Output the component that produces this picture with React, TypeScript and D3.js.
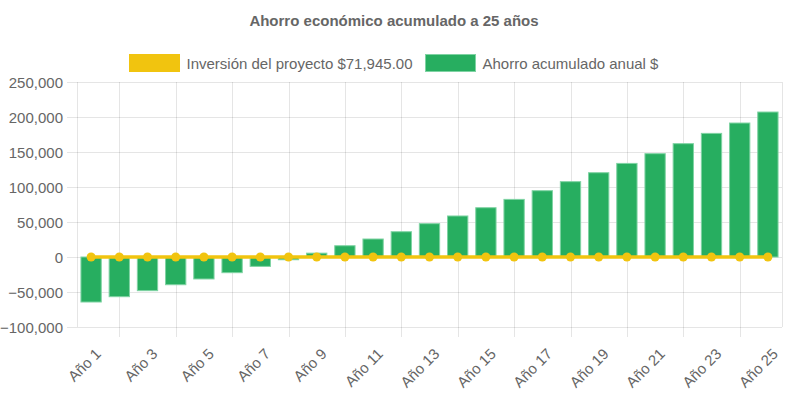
import * as d3 from 'd3';

const years = d3.range(1, 26).map((i) => `Año ${i}`);
// ahorro acumulado anual
const savings = [
  -64300, -56700, -48100, -39600, -31400, -22400, -13400, -3900, 5500, 16100,
  25700, 36100, 47600, 58600, 70400, 82300, 94700, 107600, 120400, 133700,
  147600, 161900, 176600, 191400, 207100,
];
// inversión del proyecto se dibuja como línea en cero
const investment = years.map(() => 0);
const yTicks = [-100000, -50000, 0, 50000, 100000, 150000, 200000, 250000];

const title = 'Ahorro económico acumulado a 25 años';
const legendItems = [
  { label: 'Inversión del proyecto $71,945.00', color: '#f1c40f', stroke: '#f1c40f', x: 129 },
  { label: 'Ahorro acumulado anual $', color: '#27ae60', stroke: '#7fd3a3', x: 425 },
];

const W = 788;
const H = 393;
const margin = { top: 82, right: 6, bottom: 66, left: 77 };
const font = '"Liberation Sans", Arial, sans-serif';
const grid = 'rgba(0,0,0,0.1)';
const textColor = '#666';

export default function App() {
  const x = d3
    .scaleBand<string>()
    .domain(years)
    .range([margin.left, W - margin.right]);
  const y = d3
    .scaleLinear()
    .domain([-100000, 250000])
    .range([H - margin.bottom, margin.top]);

  const bw = x.bandwidth() * 0.72;
  const cx = (d: string) => (x(d) ?? 0) + x.bandwidth() / 2;
  const fmt = d3.format(',');

  const line = d3
    .line<number>()
    .x((_, i) => cx(years[i]))
    .y((d) => y(d));

  const plotBottom = y(-100000);
  const plotTop = y(250000);
  const shown = years.filter((_, i) => i % 2 === 0);
  const between = years.filter((_, i) => i % 2 === 1);

  return (
    <>
      <style>{'body{margin:0}'}</style>
      <svg width={W} height={H} style={{ display: 'block', fontFamily: font }}>
        <rect width={W} height={H} fill='#fff' />
        <text
          x={W / 2}
          y={20}
          textAnchor='middle'
          dominantBaseline='central'
          fontSize={15}
          fontWeight='bold'
          fill={textColor}
        >
          {title}
        </text>

        {legendItems.map((l) => (
          <g key={l.label}>
            <rect
              x={l.x + 0.5}
              y={54.5}
              width={50}
              height={17}
              fill={l.color}
              stroke={l.stroke}
              strokeWidth={1}
            />
            <text
              x={l.x + 57.5}
              y={63}
              dominantBaseline='central'
              fontSize={15}
              fill={textColor}
            >
              {l.label}
            </text>
          </g>
        ))}

        {/* horizontal grid + y ticks */}
        {yTicks.map((t) => (
          <g key={t}>
            <line
              x1={margin.left - 10}
              x2={W - margin.right}
              y1={Math.round(y(t)) + 0.5}
              y2={Math.round(y(t)) + 0.5}
              stroke={grid}
            />
            <text
              x={margin.left - 14}
              y={y(t)}
              textAnchor='end'
              dominantBaseline='central'
              fontSize={15}
              fill={textColor}
            >
              {fmt(t)}
            </text>
          </g>
        ))}

        {/* vertical grid */}
        {[margin.left, W - margin.right].map((v) => (
          <line
            key={v}
            x1={Math.round(v) + 0.5}
            x2={Math.round(v) + 0.5}
            y1={plotTop}
            y2={plotBottom}
            stroke={grid}
          />
        ))}
        {between.map((d) => (
          <line
            key={d}
            x1={Math.round(cx(d)) + 0.5}
            x2={Math.round(cx(d)) + 0.5}
            y1={plotTop}
            y2={plotBottom + 10}
            stroke={grid}
          />
        ))}

        {/* bars */}
        {savings.map((v, i) => (
          <rect
            key={years[i]}
            x={cx(years[i]) - bw / 2}
            y={Math.min(y(v), y(0))}
            width={bw}
            height={Math.abs(y(v) - y(0))}
            fill='#27ae60'
            stroke='#7fd3a3'
            strokeWidth={1}
          />
        ))}

        {/* investment line */}
        <path
          d={line(investment) ?? undefined}
          fill='none'
          stroke='#f1c40f'
          strokeWidth={3.5}
        />
        {investment.map((v, i) => (
          <circle key={i} cx={cx(years[i])} cy={y(v)} r={4.5} fill='#f1c40f' />
        ))}

        {/* x labels */}
        {shown.map((d) => (
          <text
            key={d}
            transform={`translate(${cx(d) + 7},${plotBottom + 24}) rotate(-45)`}
            textAnchor='end'
            dominantBaseline='central'
            fontSize={15}
            fill={textColor}
          >
            {d}
          </text>
        ))}
      </svg>
    </>
  );
}
